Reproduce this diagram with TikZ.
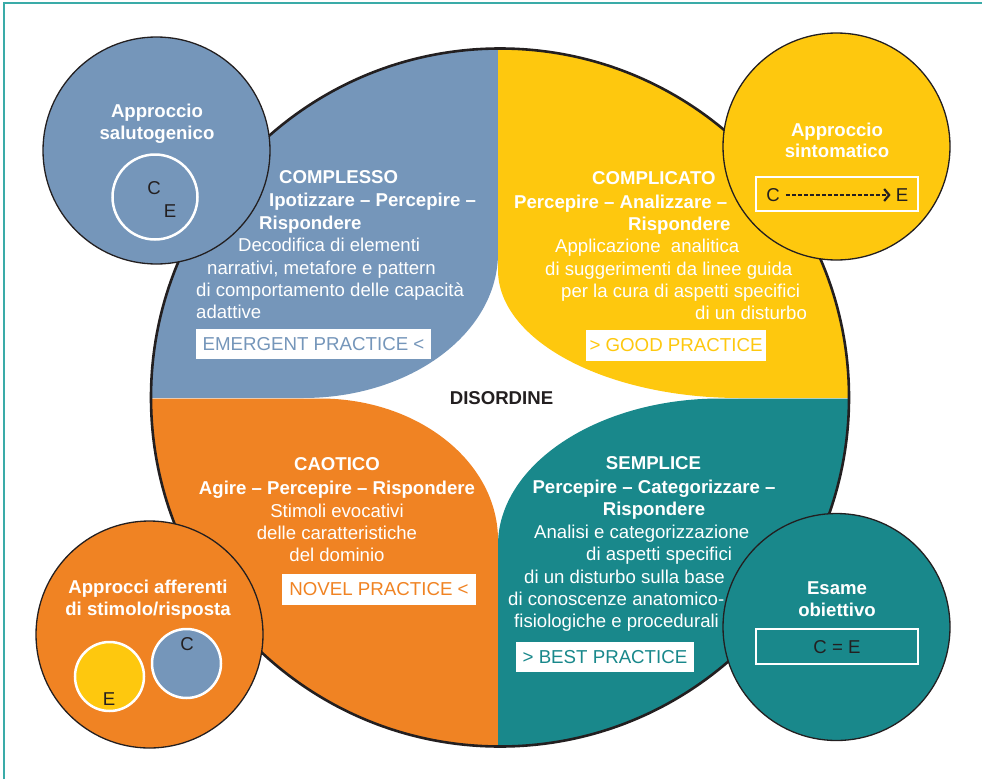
\documentclass[tikz,border=0pt]{standalone}
\usepackage{fontspec}
\setmainfont{Liberation Sans}
\usetikzlibrary{arrows.meta}
\definecolor{blueQ}{RGB}{117,150,186}
\definecolor{yellowQ}{RGB}{254,200,14}
\definecolor{orangeQ}{RGB}{240,131,35}
\definecolor{tealQ}{RGB}{25,136,139}
\definecolor{darkT}{RGB}{35,31,32}
\definecolor{frameC}{RGB}{58,171,168}
\tikzset{
  txt/.style={font=\fontsize{18.6}{22}\selectfont, text=white, inner sep=0pt, anchor=base west},
  txtc/.style={txt, anchor=base},
  txtb/.style={txt, font=\fontsize{18.6}{22}\selectfont\bfseries},
  txtbc/.style={txtb, anchor=base},
  smallc/.style={circle, draw=darkT, line width=1.3pt, minimum size=227pt, inner sep=0pt},
  tinyc/.style={circle, draw=white, line width=2.5pt, minimum size=67pt, inner sep=0pt},
  practice/.style={fill=white, inner sep=0pt, font=\fontsize{18.7}{22}\selectfont},
  letter/.style={font=\fontsize{18.6}{22}\selectfont, text=darkT, inner sep=0pt},
  wbox/.style={draw=white, line width=2.2pt, inner sep=0pt}
}
\begin{document}
\begin{tikzpicture}[x=1pt,y=-1pt]
\useasboundingbox (0,0) rectangle (982,779);
% frame
\draw[frameC, line width=1.6pt] (4,779) -- (4,3) -- (982,3);
% quadrants
\begin{scope}
\clip (500,397.5) circle[radius=349pt];
\fill[blueQ] (100,398) -- (303,398) .. controls (410.7,398) and (498,333.1) .. (498,253) -- (498,0) -- (100,0) -- cycle;
\fill[yellowQ] (498,0) -- (498,270) .. controls (498,340.7) and (606.3,398) .. (740,398) -- (900,398) -- (900,0) -- cycle;
\fill[orangeQ] (100,398.5) -- (320,398.5) .. controls (418.3,398.5) and (498,462.1) .. (498,540) -- (498,800) -- (100,800) -- cycle;
\fill[tealQ] (498,800) -- (498,545) .. controls (498,464.9) and (597.4,398.5) .. (720,398.5) -- (900,398.5) -- (900,800) -- cycle;
\end{scope}
\node[circle, draw=darkT, line width=2.6pt, minimum size=698pt, inner sep=0pt] (big) at (500,397.5) {};
% small circles
\node[smallc, fill=blueQ] (salut) at (156.5,150.5) {};
\node[smallc, fill=yellowQ] (sint) at (836.5,146.5) {};
\node[smallc, fill=orangeQ] (affer) at (149.5,634.5) {};
\node[smallc, fill=tealQ] (esame) at (836.5,627) {};
% salutogenico
\node[txtbc] (salT1) at (157,117) {Approccio};
\node[txtbc] (salT2) at (157,139) {salutogenico};
\node[tinyc, minimum size=85pt] (salIn) at (155,197) {};
\node[letter] (salC) at (154,188) {C};
\node[letter] (salE) at (170,211) {E};
% sintomatico
\node[txtbc] (sinT1) at (837,136) {Approccio};
\node[txtbc] (sinT2) at (837,157) {sintomatico};
\node[wbox, minimum width=162pt, minimum height=34pt] (sinBox) at (837,194) {};
\node[letter] (sinC) at (773,195) {C};
\node[letter] (sinE) at (902,195) {E};
\draw[darkT, line width=1.5pt, dash pattern=on 4pt off 2pt, shorten <=6pt, shorten >=5pt, -{Straight Barb[length=5pt,width=12pt,line width=2.2pt]}] (sinC.east) -- (sinE.west);
% afferenti
\node[txtbc] (affT1) at (148,593) {Approcci afferenti};
\node[txtbc] (affT2) at (148,615) {di stimolo/risposta};
\node[tinyc, fill=yellowQ, minimum size=69pt] (affY) at (109.5,676.5) {};
\node[tinyc, fill=blueQ, minimum size=69pt] (affB) at (186.5,663.5) {};
\node[letter] (affE) at (109,699) {E};
\node[letter] (affC) at (187,644) {C};
% esame
\node[txtbc] (esaT1) at (837,594) {Esame};
\node[txtbc] (esaT2) at (837,616) {obiettivo};
\node[wbox, minimum width=162pt, minimum height=35pt] (esaBox) at (837,646.5) {};
\node[letter] (esaCE) at (837,647) {C = E};
% COMPLESSO
\node[txtb] (cx1) at (279,183) {COMPLESSO};
\node[txtb] (cx2) at (269,206) {Ipotizzare -- Percepire --};
\node[txtb] (cx3) at (259,229) {Rispondere};
\node[txt] (cx4) at (238,251) {Decodifica di elementi};
\node[txt] (cx5) at (207,274) {narrativi, metafore e pattern};
\node[txt] (cx6) at (196,296) {di comportamento delle capacità};
\node[txt] (cx7) at (196,318) {adattive};
\node[practice, text=blueQ, minimum width=235pt, minimum height=30pt] (emerg) at (313.5,344) {EMERGENT PRACTICE <};
% COMPLICATO
\node[txtb] (ct1) at (592,184) {COMPLICATO};
\node[txtb] (ct2) at (514,208) {Percepire -- Analizzare --};
\node[txtb] (ct3) at (628,230) {Rispondere};
\node[txt] (ct4) at (555,252) {Applicazione\ \ analitica};
\node[txt] (ct5) at (545,275) {di suggerimenti da linee guida};
\node[txt] (ct6) at (561,297) {per la cura di aspetti specifici};
\node[txt] (ct7) at (695,319) {di un disturbo};
\node[practice, text=yellowQ, minimum width=180pt, minimum height=31pt] (good) at (676,345.5) {> GOOD PRACTICE};
% DISORDINE
\node[txtbc, text=darkT] (dis) at (501.5,404) {DISORDINE};
% CAOTICO
\node[txtbc] (ca1) at (337,470) {CAOTICO};
\node[txtbc] (ca2) at (337,494) {Agire -- Percepire -- Rispondere};
\node[txtc] (ca3) at (337,517) {Stimoli evocativi};
\node[txtc] (ca4) at (337,539) {delle caratteristiche};
\node[txtc] (ca5) at (337,561) {del dominio};
\node[practice, text=orangeQ, minimum width=194pt, minimum height=31pt] (novel) at (379,589.5) {NOVEL PRACTICE <};
% SEMPLICE
\node[txtbc] (se1) at (653.5,469) {SEMPLICE};
\node[txtbc] (se2) at (654,493) {Percepire -- Categorizzare --};
\node[txtbc] (se3) at (654,515) {Rispondere};
\node[txt] (se4) at (534,538) {Analisi e categorizzazione};
\node[txt] (se5) at (586,560) {di aspetti specifici};
\node[txt] (se6) at (524,583) {di un disturbo sulla base};
\node[txt] (se7) at (508,605) {di conoscenze anatomico-};
\node[txt] (se8) at (514,627) {fisiologiche e procedurali};
\node[practice, text=tealQ, minimum width=178pt, minimum height=30pt] (best) at (605,657) {> BEST PRACTICE};
\end{tikzpicture}
\end{document}
